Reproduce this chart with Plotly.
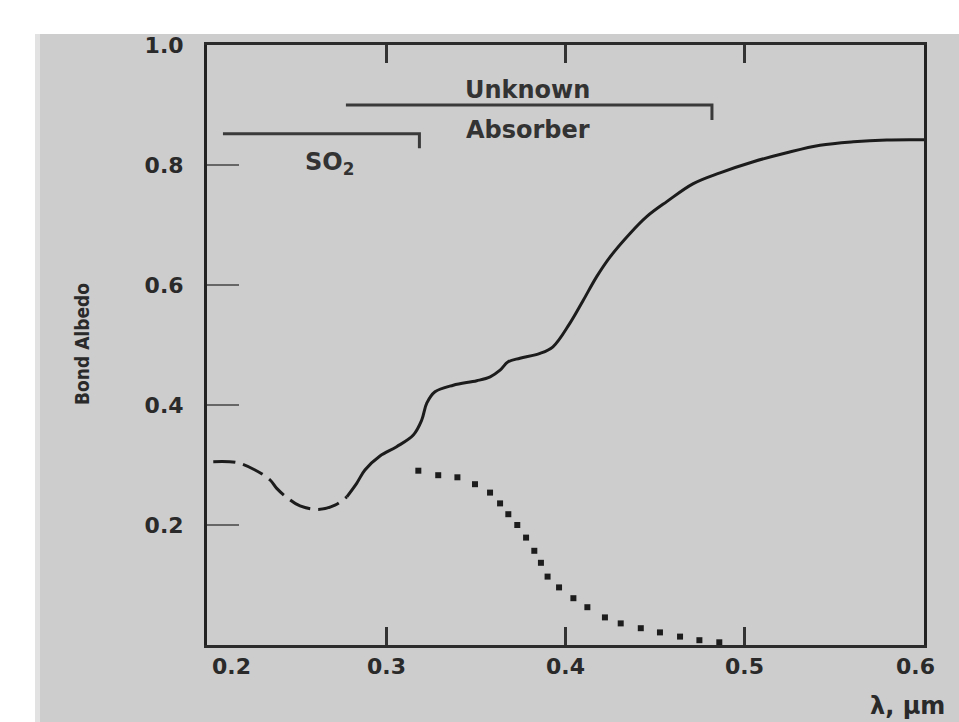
import plotly.graph_objects as go

# ---------------- data ----------------
lam_dash = [0.2035, 0.2166, 0.2268, 0.2352, 0.2389, 0.2445, 0.2519, 0.2621, 0.2714, 0.278]
alb_dash = [0.3055, 0.304, 0.2917, 0.275, 0.261, 0.246, 0.2317, 0.226, 0.233, 0.247]

lam_solid = [0.278, 0.2835, 0.2881, 0.2965, 0.3058, 0.3151, 0.3198, 0.3226, 0.3272, 0.3374,
             0.3505, 0.358, 0.3635, 0.368, 0.3746, 0.3858, 0.393, 0.4024, 0.41, 0.4174,
             0.4249, 0.436, 0.4453, 0.4565, 0.4713, 0.4862, 0.5048, 0.5234, 0.542, 0.5606,
             0.5792, 0.6]
alb_solid = [0.247, 0.2695, 0.2917, 0.315, 0.3305, 0.35, 0.375, 0.403, 0.422, 0.433,
             0.4405, 0.447, 0.458, 0.472, 0.478, 0.486, 0.497, 0.536, 0.575, 0.614,
             0.647, 0.686, 0.714, 0.739, 0.769, 0.787, 0.8055, 0.8205, 0.833, 0.8388,
             0.8417, 0.842]

lam_dot = [0.3179, 0.329, 0.3397, 0.3495, 0.3579, 0.3635, 0.3681, 0.3731, 0.378, 0.3826,
           0.3863, 0.39, 0.3964, 0.4044, 0.4122, 0.422, 0.4308, 0.442, 0.4527, 0.4639,
           0.4747, 0.4858]
alb_dot = [0.2905, 0.283, 0.2795, 0.268, 0.254, 0.236, 0.218, 0.2, 0.179, 0.157,
           0.137, 0.114, 0.096, 0.078, 0.063, 0.046, 0.036, 0.028, 0.021, 0.014,
           0.008, 0.0045]

so2_x = [0.2089, 0.3185, 0.3185]
so2_y = [0.852, 0.852, 0.828]
unk_x = [0.2775, 0.4817, 0.4817]
unk_y = [0.9, 0.9, 0.875]

x_ticks = [0.2, 0.3, 0.4, 0.5, 0.6]
x_ticklabels = ["0.2", "0.3", "0.4", "0.5", "0.6"]
y_ticks = [0.2, 0.4, 0.6, 0.8, 1.0]
y_ticklabels = ["0.2", "0.4", "0.6", "0.8", "1.0"]

# ---------------- figure ----------------
W, H = 959, 722
ML, MR, MT, MB = 207, 35, 45, 77
PW, PH = W - ML - MR, H - MT - MB
BG = "#cdcdcd"
INK = "#1c1c1c"

def px_x(p):
    return (p - ML) / PW

def px_y(p):
    return (H - MB - p) / PH

fig = go.Figure()

fig.add_trace(go.Scatter(x=lam_dash, y=alb_dash, mode="lines", line_shape="spline",
                         line=dict(color=INK, width=3, dash="22px,8px"), showlegend=False))
fig.add_trace(go.Scatter(x=lam_solid, y=alb_solid, mode="lines", line_shape="spline",
                         line=dict(color=INK, width=3), showlegend=False))
fig.add_trace(go.Scatter(x=lam_dot, y=alb_dot, mode="markers",
                         marker=dict(symbol="square", size=6, color=INK), showlegend=False))
fig.add_trace(go.Scatter(x=so2_x, y=so2_y, mode="lines",
                         line=dict(color="#3a3a3a", width=3), showlegend=False))
fig.add_trace(go.Scatter(x=unk_x, y=unk_y, mode="lines",
                         line=dict(color="#3a3a3a", width=3), showlegend=False))

label_font = dict(family="DejaVu Sans", size=22, color="#2a2a2a")
ann_font = dict(family="DejaVu Sans", size=24, color="#333333")

annotations = [
    dict(x=0.379, y=0.925, text="<b>Unknown</b>", showarrow=False, font=ann_font,
         xanchor="center", yanchor="middle"),
    dict(x=0.379, y=0.858, text="<b>Absorber</b>", showarrow=False, font=ann_font,
         xanchor="center", yanchor="middle"),
    dict(x=0.2686, y=0.803, text="<b>SO<sub>2</sub></b>", showarrow=False, font=ann_font,
         xanchor="center", yanchor="middle"),
    dict(x=px_x(868), y=px_y(706), xref="paper", yref="paper", text="<b>λ, μm</b>",
         showarrow=False, font=dict(family="DejaVu Sans", size=24, color="#2a2a2a"),
         xanchor="left", yanchor="middle"),
    dict(x=px_x(82), y=px_y(344), xref="paper", yref="paper", text="<b>Bond Albedo</b>",
         showarrow=False, textangle=-90,
         font=dict(family="DejaVu Sans Condensed, DejaVu Sans", size=19, color="#2a2a2a"),
         xanchor="center", yanchor="middle"),
]
x_shift = {0: 24, len(x_ticks) - 1: -9}
for i, (v, t) in enumerate(zip(x_ticks, x_ticklabels)):
    annotations.append(dict(x=v, y=0, xref="x", yref="paper", text="<b>" + t + "</b>",
                            showarrow=False, font=label_font, xanchor="center",
                            yanchor="middle", yshift=-21, xshift=x_shift.get(i, 0)))

shapes = [
    dict(type="rect", xref="paper", yref="paper", x0=px_x(0), x1=px_x(W), y0=px_y(0), y1=px_y(34),
         fillcolor="white", line=dict(width=0), layer="below"),
    dict(type="rect", xref="paper", yref="paper", x0=px_x(0), x1=px_x(35), y0=px_y(H), y1=px_y(0),
         fillcolor="white", line=dict(width=0), layer="below"),
    dict(type="rect", xref="paper", yref="paper", x0=px_x(35), x1=px_x(40), y0=px_y(H), y1=px_y(34),
         fillcolor="#e2e2e2", line=dict(width=0), layer="below"),
]

fig.update_layout(
    width=W, height=H,
    margin=dict(l=ML, r=MR, t=MT, b=MB, pad=0),
    paper_bgcolor=BG, plot_bgcolor=BG,
    showlegend=False,
    annotations=annotations,
    shapes=shapes,
    xaxis=dict(range=[0.2, 0.6], tickvals=x_ticks, ticktext=x_ticklabels, showticklabels=False,
               ticks="inside", ticklen=18, tickwidth=3, tickcolor="#333",
               showline=True, linecolor="#2b2b2b", linewidth=3, mirror="ticks",
               showgrid=False, zeroline=False),
    yaxis=dict(range=[0, 1.0], tickvals=y_ticks, ticktext=["<b>" + t + "</b>" for t in y_ticklabels],
               ticks="inside", ticklen=32, tickwidth=2, tickcolor="#666",
               tickfont=label_font, ticklabelstandoff=16,
               showline=True, linecolor="#222", linewidth=3, mirror=True,
               showgrid=False, zeroline=False),
)

fig.write_html("out.html")
